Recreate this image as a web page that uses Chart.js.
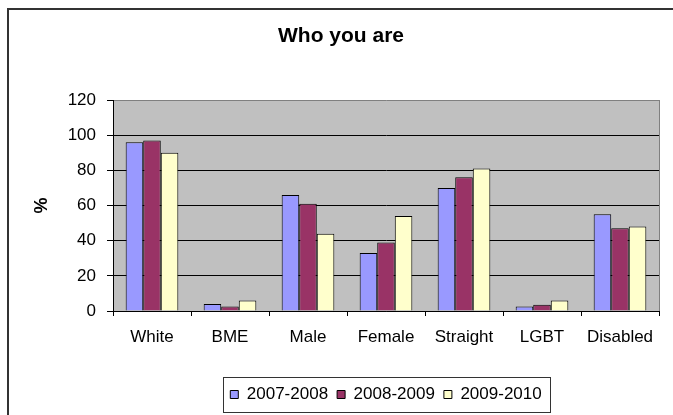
<!DOCTYPE html>
<html lang="en">
<head>
    <meta charset="UTF-8">
    <title>Who you are</title>
    <script src="https://cdn.jsdelivr.net/npm/chart.js@4"></script>
    <style>
        html, body {
            margin: 0;
            padding: 0;
            background: #fff;
        }
        #wrap {
            width: 673px;
            height: 415px;
        }
    </style>
</head>
<body>
    <div id="wrap">
        <canvas id="chart" width="673" height="415"></canvas>
    </div>
    <script>
        // data
        const categories = ['White', 'BME', 'Male', 'Female', 'Straight', 'LGBT', 'Disabled'];
        const seriesNames = ['2007-2008', '2008-2009', '2009-2010'];
        const values2007 = [96, 4, 66, 33, 70, 2.5, 55];
        const values2008 = [97, 2.5, 61, 39, 76, 3.5, 47];
        const values2009 = [90, 6, 44, 54, 81, 6, 48];
        const yTicks = [0, 20, 40, 60, 80, 100, 120];

        Chart.defaults.font.family = '"Liberation Sans", Arial, sans-serif';
        Chart.defaults.color = '#000';

        // frame, grey plot area, legend box
        const decor = {
            id: 'decor',
            beforeDraw(chart) {
                const c = chart.ctx;
                const a = chart.chartArea;
                c.save();
                c.fillStyle = '#c0c0c0';
                c.fillRect(a.left, a.top, a.right - a.left, a.bottom - a.top);
                c.fillStyle = '#333';
                c.fillRect(7, 8, 666, 2);
                c.fillRect(7, 8, 2, 407);
                c.restore();
            },
            afterDraw(chart) {
                const c = chart.ctx;
                const a = chart.chartArea;
                const lg = chart.legend;
                c.save();
                c.strokeStyle = '#808080';
                c.lineWidth = 1;
                c.beginPath();
                c.moveTo(a.right + 0.5, a.top);
                c.lineTo(a.right + 0.5, a.bottom);
                c.stroke();
                const hb = lg.legendHitBoxes;
                if (hb && hb.length) {
                    const last = hb[hb.length - 1];
                    const x1 = Math.round(hb[0].left - 7) + 0.5;
                    const x2 = Math.round(last.left + last.width + 8) + 0.5;
                    c.strokeStyle = '#333';
                    c.strokeRect(x1, Math.round(lg.top) + 0.5, x2 - x1, Math.round(lg.bottom - lg.top) - 1);
                }
                c.restore();
            }
        };

        new Chart(document.getElementById('chart'), {
            type: 'bar',
            data: {
                labels: categories,
                datasets: [
                    { label: seriesNames[0], data: values2007, backgroundColor: '#9999ff' },
                    { label: seriesNames[1], data: values2008, backgroundColor: '#993366' },
                    { label: seriesNames[2], data: values2009, backgroundColor: '#ffffcc' }
                ]
            },
            options: {
                responsive: false,
                animation: false,
                layout: { padding: { left: 9, right: 0, top: 0, bottom: 2 } },
                datasets: {
                    bar: {
                        borderColor: '#000',
                        borderWidth: 1,
                        categoryPercentage: 0.675,
                        barPercentage: 1
                    }
                },
                plugins: {
                    title: {
                        display: true,
                        text: 'Who you are',
                        font: { size: 21, weight: 'bold' },
                        padding: { top: 24, bottom: 50.8 }
                    },
                    legend: {
                        position: 'bottom',
                        fullSize: false,
                        labels: {
                            boxWidth: 8,
                            boxHeight: 8,
                            padding: 9,
                            font: { size: 17 }
                        }
                    },
                    tooltip: { enabled: false }
                },
                scales: {
                    x: {
                        grid: {
                            offset: true,
                            drawOnChartArea: false,
                            color: '#000',
                            tickLength: 5
                        },
                        border: { color: '#000', width: 1 },
                        ticks: { font: { size: 17 }, padding: 11 },
                        afterFit(scale) { scale.height = 66; }
                    },
                    y: {
                        min: 0,
                        max: 120,
                        afterBuildTicks(scale) {
                            scale.ticks = yTicks.map(v => ({ value: v }));
                        },
                        grid: {
                            color: ctx => (ctx.tick && ctx.tick.value === 120) ? '#808080' : '#000',
                            tickColor: '#000',
                            tickLength: 6
                        },
                        border: { color: '#000', width: 1 },
                        ticks: { font: { size: 17 }, padding: 11 },
                        title: {
                            display: true,
                            text: '%',
                            font: { size: 18, weight: 'bold' },
                            padding: { top: 22, bottom: 0 }
                        },
                        afterFit(scale) { scale.width = 104; }
                    },
                    yRight: {
                        position: 'right',
                        grid: { display: false },
                        border: { display: false },
                        ticks: { display: false },
                        afterFit(scale) { scale.width = 14; }
                    }
                }
            },
            plugins: [decor]
        });
    </script>
</body>
</html>
